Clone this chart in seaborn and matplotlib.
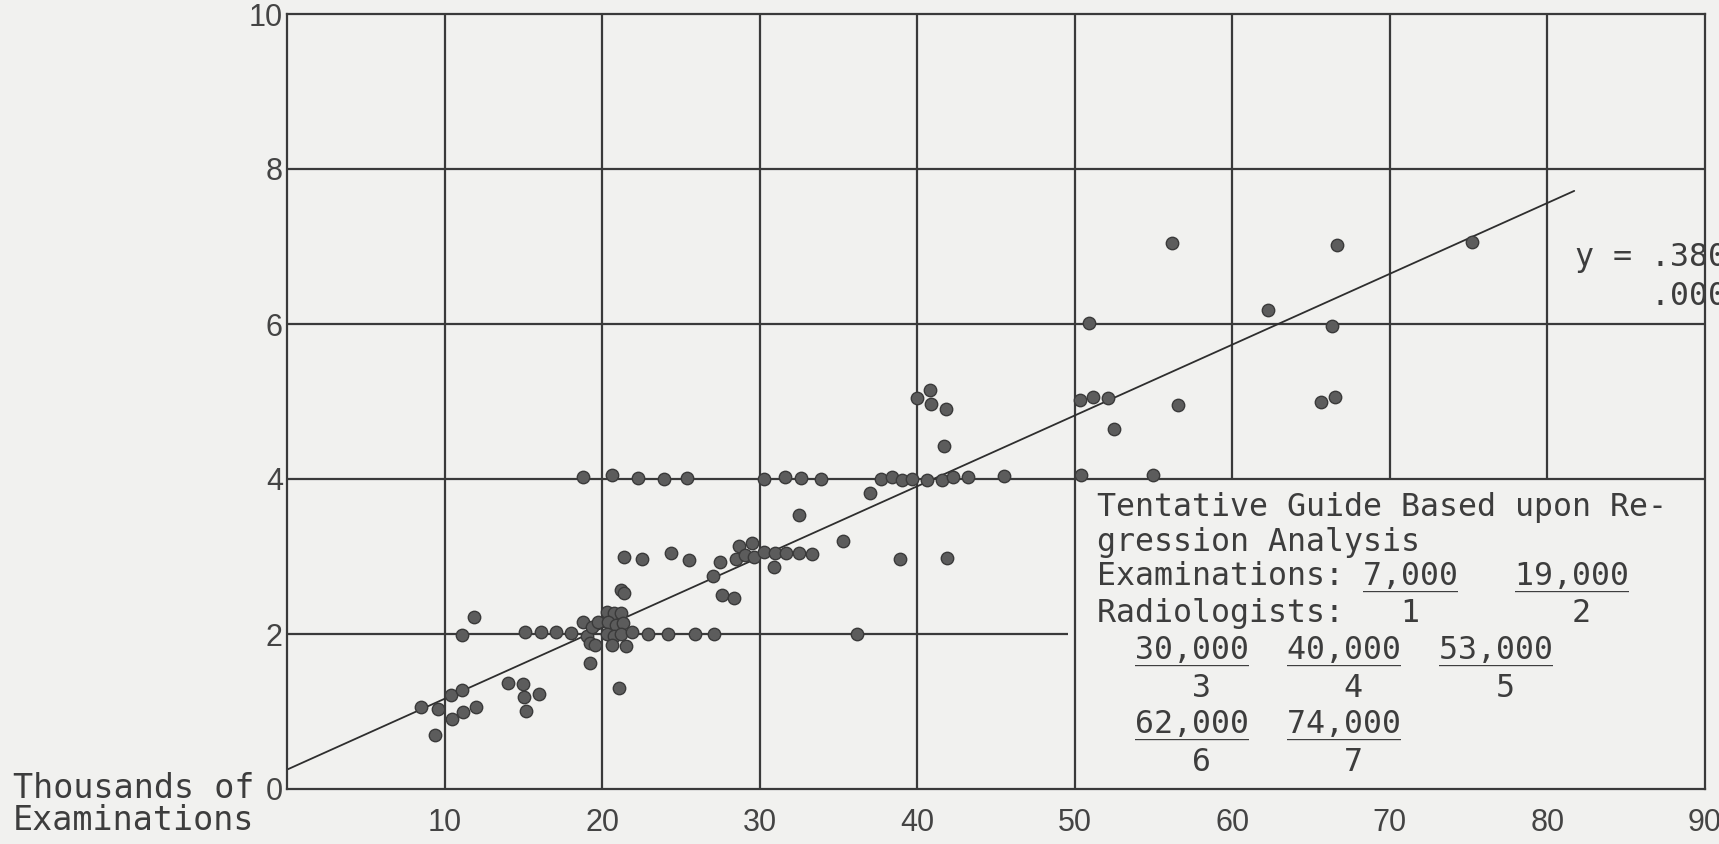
import numpy as np
import pandas as pd
import matplotlib
matplotlib.use("Agg")
import matplotlib.pyplot as plt
import seaborn as sns

# readings: thousands of examinations vs. radiologists
exams = [
    8.5, 9.4, 9.6, 10.4, 11.1, 10.5, 11.2, 12.0, 11.1, 11.9,
    14.0, 15.0, 15.05, 15.2, 16.0, 15.1, 16.1, 17.05, 18.05, 18.8,
    19.06, 19.26, 19.56, 19.36, 19.76, 20.3, 20.75, 21.2, 20.4, 20.85,
    21.3, 20.3, 20.75, 21.2, 21.9, 22.9, 20.6, 21.5, 21.2, 19.2,
    21.05, 24.2, 25.9, 27.1,
    21.4, 22.5, 24.4, 25.5, 27.5, 27.06, 27.6, 28.4, 21.4, 28.7,
    29.5, 28.5, 29.1, 29.66, 30.3, 31.0, 31.7, 32.5, 33.3, 30.9, 32.5,
    18.8, 20.6, 22.3, 23.9, 25.4, 30.3, 31.6, 32.6, 33.9, 37.7,
    38.4, 39.05, 39.7, 40.6, 41.55, 42.3, 43.2, 45.5, 50.4, 54.96,
    40.8, 40.0, 40.85, 41.8, 41.7, 37.0, 35.3, 38.9, 41.9, 36.2,
    56.2, 50.9, 50.36, 51.15, 52.1, 52.46, 56.56, 62.26, 66.67, 66.3,
    65.6, 66.5, 75.2,
]
radiologists = [
    1.06, 0.70, 1.03, 1.21, 1.28, 0.90, 1.00, 1.06, 1.99, 2.22,
    1.37, 1.36, 1.19, 1.01, 1.22, 2.02, 2.02, 2.02, 2.01, 2.15,
    1.98, 1.89, 1.86, 2.09, 2.16, 2.29, 2.27, 2.27, 2.16, 2.11,
    2.14, 2.00, 1.98, 2.00, 2.02, 2.00, 1.86, 1.84, 2.57, 1.62,
    1.30, 2.00, 2.00, 2.00,
    2.99, 2.97, 3.05, 2.95, 2.93, 2.75, 2.50, 2.47, 2.53, 3.14,
    3.18, 2.97, 3.02, 3.00, 3.06, 3.04, 3.05, 3.04, 3.03, 2.86, 3.53,
    4.03, 4.05, 4.01, 4.00, 4.01, 4.00, 4.02, 4.01, 4.00, 4.00,
    4.02, 3.99, 4.00, 3.99, 3.99, 4.02, 4.02, 4.04, 4.05, 4.05,
    5.15, 5.05, 4.97, 4.90, 4.42, 3.82, 3.20, 2.97, 2.98, 2.00,
    7.05, 6.01, 5.02, 5.06, 5.04, 4.65, 4.96, 6.18, 7.02, 5.98,
    4.99, 5.06, 7.06,
]

# fitted line as drawn on the chart
reg_x = [0, 81.7]
reg_intercept = 0.25
reg_slope = 0.0914

x_ticks = [10, 20, 30, 40, 50, 60, 70, 80, 90]
y_ticks = [0, 2, 4, 6, 8, 10]

guide_lines = [
    "Tentative Guide Based upon Re-",
    "gression Analysis",
    "Examinations: 7,000   19,000",
    "Radiologists:   1        2",
    "  30,000  40,000  53,000",
    "     3       4       5",
    "  62,000  74,000",
    "     6       7",
]
guide_underlines = {
    2: "              _____   ______",
    4: "  ______  ______  ______",
    6: "  ______  ______",
}
guide_y = [3.52, 3.07, 2.63, 2.15, 1.68, 1.19, 0.72, 0.23]

df = pd.DataFrame({"exams": exams, "radiologists": radiologists})
reg_y = [reg_intercept + reg_slope * v for v in reg_x]

sns.set_theme(style="white")
plt.rcParams["font.family"] = ["DejaVu Sans Mono", "DejaVu Sans"]

paper = "#f1f1ef"
ink = "#3a3a3a"

fig = plt.figure(figsize=(17.19, 8.44), dpi=100, facecolor=paper)
ax = fig.add_axes([287 / 1719, 1 - 789 / 844, (1705 - 287) / 1719, (789 - 14) / 844])
ax.set_facecolor(paper)
ax.set_xlim(0, 90)
ax.set_ylim(0, 10)

# graph paper grid; lower-right block is left open for the guide
lw = 1.6
ax.vlines([10, 20, 30, 40, 50], 0, 10, color=ink, lw=lw, zorder=1)
ax.vlines([60, 70, 80], 4, 10, color=ink, lw=lw, zorder=1)
ax.hlines([4, 6, 8], 0, 90, color=ink, lw=lw, zorder=1)
ax.hlines([2], 0, 49.6, color=ink, lw=lw, zorder=1)
for s in ax.spines.values():
    s.set_color(ink)
    s.set_linewidth(lw)

sns.lineplot(x=reg_x, y=reg_y, color="#2e2e2e", lw=1.3, ax=ax, zorder=2)
sns.scatterplot(data=df, x="exams", y="radiologists", s=80, color="#5c5c5c",
                edgecolor="#3a3a3a", linewidth=1.0, ax=ax, zorder=3)

ax.set_xticks(x_ticks)
ax.set_xticklabels([str(t) for t in x_ticks])
ax.set_yticks(y_ticks)
ax.set_yticklabels([str(t) for t in y_ticks])
ax.tick_params(axis="both", length=0, labelsize=22, labelcolor="#444444")
ax.tick_params(axis="x", pad=14)
ax.tick_params(axis="y", pad=3)
for lab in ax.get_xticklabels() + ax.get_yticklabels():
    lab.set_family("Liberation Sans")
ax.set_xlabel("")
ax.set_ylabel("")

mono = dict(family="DejaVu Sans Mono", fontsize=22.8, color="#3d3d3d")
for i, line in enumerate(guide_lines):
    ax.text(51.4, guide_y[i], line, va="baseline", ha="left", **mono)
    if i in guide_underlines:
        ax.text(51.4, guide_y[i], guide_underlines[i], va="baseline", ha="left", **mono)

# equation text runs off the page edge in the original
ax.text(81.75, 6.75, "y = .380", va="baseline", ha="left", **mono)
ax.text(81.75, 6.24, "    .000", va="baseline", ha="left", **mono)

fig.text(13 / 1719, 1 - 789 / 844, "Thousands of", va="center", ha="left",
         family="DejaVu Sans Mono", fontsize=24, color="#3d3d3d")
fig.text(13 / 1719, 1 - 821 / 844, "Examinations", va="center", ha="left",
         family="DejaVu Sans Mono", fontsize=24, color="#3d3d3d")

fig.savefig("out.png", dpi=100, facecolor=paper)
